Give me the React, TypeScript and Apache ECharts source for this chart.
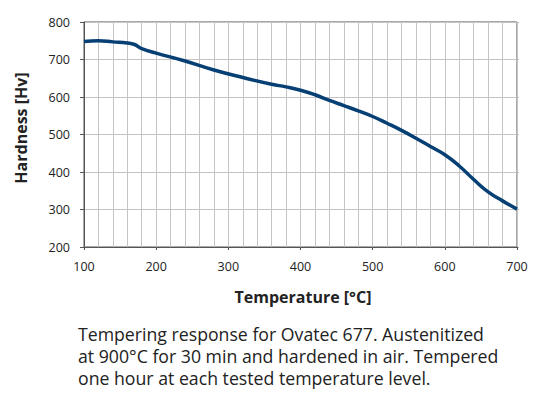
import React, { useEffect, useRef } from "react";
import * as echarts from "echarts";

const temperatures = [100, 120, 140, 160, 170, 180, 200, 240, 280, 320, 360, 380, 400, 420, 440, 460, 480, 500, 520, 540, 560, 580, 600, 620, 640, 660, 680, 700];
const hardness = [748, 750, 747, 744, 740, 729, 717, 696, 672, 652, 634, 627, 618, 606, 591, 577, 563, 548, 530, 511, 490, 468, 446, 416, 380, 347, 323, 301];
const xTicks = { min: 100, max: 700, interval: 100 };
const yTicks = { min: 200, max: 800, interval: 100 };
const xName = "Temperature [°C]";
const yName = "Hardness [Hv]";
const captionLines = [
  "Tempering response for Ovatec 677. Austenitized",
  "at 900°C for 30 min and hardened in air. Tempered",
  "one hour at each tested temperature level.",
];

const FONT = "'Open Sans', 'Noto Sans', sans-serif";

export default function App() {
  const ref = useRef<HTMLDivElement>(null);
  useEffect(() => {
    if (!ref.current) return;
    const chart = echarts.init(ref.current, null, { renderer: "svg" });
    const axisText = { color: "#222", fontSize: 12.5, fontFamily: FONT };
    chart.setOption({
      animation: false,
      backgroundColor: "#fff",
      grid: {
        left: 84,
        right: 22,
        top: 22,
        bottom: 148,
        show: true,
        borderColor: "#555",
        borderWidth: 1,
      },
      xAxis: {
        type: "value",
        min: xTicks.min,
        max: xTicks.max,
        interval: xTicks.interval,
        axisLine: { show: true, lineStyle: { color: "#555", width: 1 } },
        axisTick: { show: true, length: 3, lineStyle: { color: "#555" } },
        axisLabel: { ...axisText, margin: 13 },
        splitLine: { show: true, lineStyle: { color: "#c4c4c4", width: 1 } },
        minorTick: { show: false, splitNumber: 5 },
        minorSplitLine: { show: true, lineStyle: { color: "#c4c4c4", width: 1 } },
      },
      yAxis: [
        {
          type: "value",
          min: yTicks.min,
          max: yTicks.max,
          interval: yTicks.interval,
          axisLine: { show: true, lineStyle: { color: "#555", width: 1 } },
          axisTick: { show: true, length: 4, lineStyle: { color: "#555" } },
          axisLabel: { ...axisText, margin: 14 },
          splitLine: { show: true, lineStyle: { color: "#c4c4c4", width: 1 } },
        },
        {
          type: "value",
          position: "right",
          min: yTicks.min,
          max: yTicks.max,
          interval: yTicks.interval,
          axisLine: { show: false },
          axisTick: { show: true, length: 2, lineStyle: { color: "#bbb" } },
          axisLabel: { show: false },
          splitLine: { show: false },
        },
      ],
      series: [
        {
          type: "line",
          data: temperatures.map((t, i) => [t, hardness[i]]),
          smooth: 0.5,
          showSymbol: false,
          symbol: "none",
          lineStyle: { color: "#063f74", width: 3.5 },
          z: 5,
        },
      ],
      graphic: [
        {
          type: "text",
          x: 303,
          y: 297,
          style: {
            text: xName,
            fill: "#222",
            font: `bold 16px ${FONT}`,
            textAlign: "center",
            textVerticalAlign: "middle",
          },
        },
        {
          type: "text",
          x: 21,
          y: 128,
          rotation: Math.PI / 2,
          style: {
            text: yName,
            fill: "#222",
            font: `bold 16px ${FONT}`,
            textAlign: "center",
            textVerticalAlign: "middle",
          },
        },
        {
          type: "text",
          left: 78,
          top: 323,
          style: {
            text: captionLines.join("\n"),
            fill: "#222",
            font: `17.7px ${FONT}`,
            lineHeight: 22,
          },
        },
      ],
    });
    return () => chart.dispose();
  }, []);
  return <div ref={ref} style={{ width: 539, height: 395, position: "absolute", left: 0, top: 0 }} />;
}
